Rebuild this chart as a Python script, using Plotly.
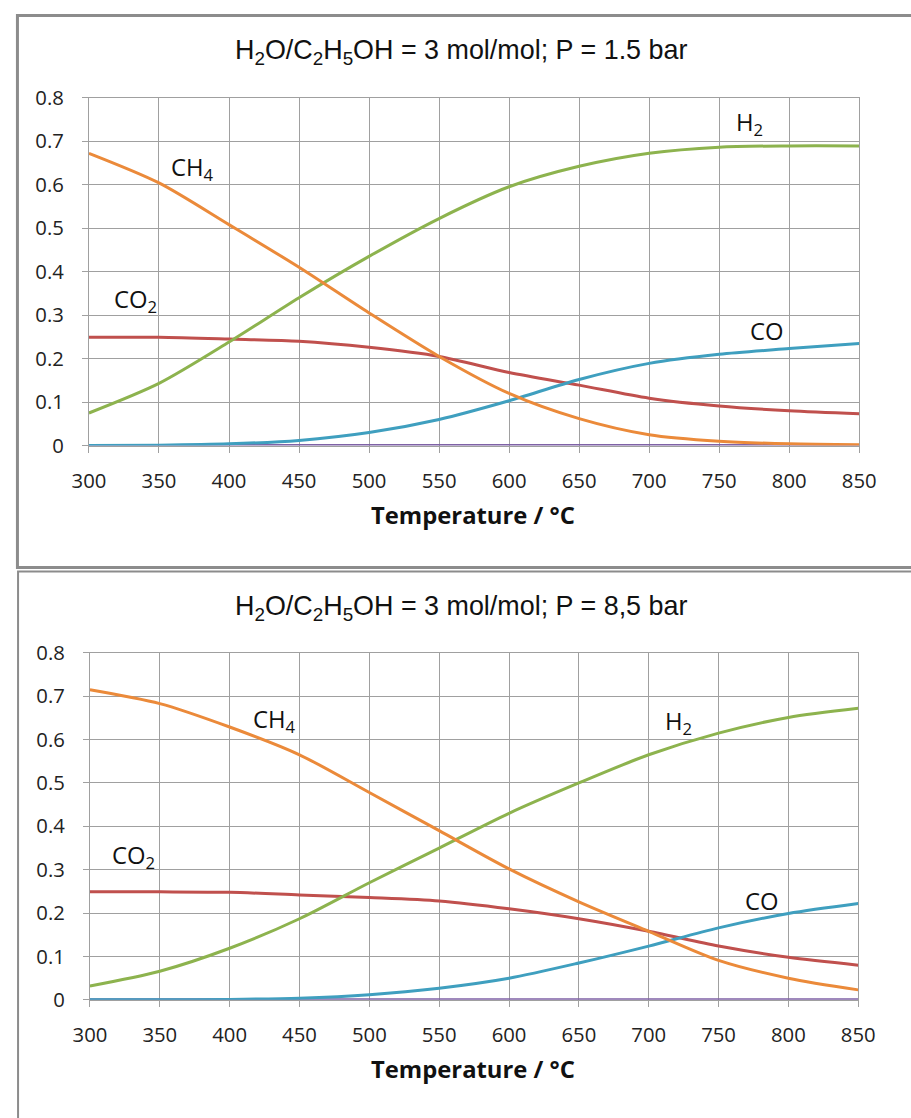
import plotly.graph_objects as go

temps = [300, 350, 400, 450, 500, 550, 600, 650, 700, 750, 800, 850]

# P = 1.5 bar
h2_a  = [0.075, 0.143, 0.238, 0.340, 0.435, 0.522, 0.595, 0.642, 0.672, 0.686, 0.689, 0.689]
ch4_a = [0.672, 0.604, 0.508, 0.410, 0.305, 0.205, 0.120, 0.062, 0.025, 0.010, 0.004, 0.002]
co2_a = [0.249, 0.249, 0.245, 0.240, 0.226, 0.205, 0.168, 0.139, 0.109, 0.091, 0.080, 0.073]
co_a  = [0.000, 0.001, 0.004, 0.012, 0.030, 0.060, 0.103, 0.152, 0.189, 0.210, 0.223, 0.235]
c_a   = [0.0] * 12

# P = 8,5 bar
h2_b  = [0.032, 0.066, 0.119, 0.187, 0.270, 0.350, 0.430, 0.500, 0.565, 0.615, 0.651, 0.672]
ch4_b = [0.715, 0.683, 0.629, 0.565, 0.478, 0.390, 0.302, 0.226, 0.158, 0.091, 0.050, 0.023]
co2_b = [0.249, 0.249, 0.248, 0.242, 0.236, 0.228, 0.210, 0.187, 0.158, 0.124, 0.098, 0.080]
co_b  = [0.000, 0.000, 0.001, 0.004, 0.012, 0.027, 0.050, 0.085, 0.124, 0.166, 0.199, 0.222]
c_b   = [0.0] * 12

x_ticks = [300, 350, 400, 450, 500, 550, 600, 650, 700, 750, 800, 850]
y_ticks = [0, 0.1, 0.2, 0.3, 0.4, 0.5, 0.6, 0.7, 0.8]
y_tick_text = ["0", "0.1", "0.2", "0.3", "0.4", "0.5", "0.6", "0.7", "0.8"]

titles = ["H<sub>2</sub>O/C<sub>2</sub>H<sub>5</sub>OH = 3 mol/mol; P = 1.5 bar",
          "H<sub>2</sub>O/C<sub>2</sub>H<sub>5</sub>OH = 3 mol/mol; P = 8,5 bar"]
x_title = "Temperature / °C"

labels_a = [("CH<sub>4</sub>", 374, 0.638), ("CO<sub>2</sub>", 333, 0.333),
            ("H<sub>2</sub>", 772, 0.741), ("CO", 784, 0.264)]
labels_b = [("CH<sub>4</sub>", 432, 0.645), ("CO<sub>2</sub>", 331, 0.331),
            ("H<sub>2</sub>", 721, 0.640), ("CO", 781, 0.229)]

COL = {"purple": "#7F62A6", "red": "#C0504D", "green": "#8DB34E",
       "aqua": "#3F9FBF", "orange": "#EB8A3A"}

W, H = 911, 1118
# measured mapping of figure pixels to the photographed picture:
# picture_x = SX * fig_x + OX ; picture_y = SY * fig_y + OY
SX, OX, SY, OY = 0.9886, 9.1, 0.9833, 8.7
FS = 1.0 / ((SX + SY) / 2)

def px2x(px):
    return ((px - OX) / SX) / W

def py2y(py):
    return 1 - ((py - OY) / SY) / H

fig = go.Figure()
panels = [
    (dict(c=c_a, co2=co2_a, h2=h2_a, co=co_a, ch4=ch4_a), "x", "y"),
    (dict(c=c_b, co2=co2_b, h2=h2_b, co=co_b, ch4=ch4_b), "x2", "y2"),
]
for d, xa, ya in panels:
    for key, col in [("c", "purple"), ("co2", "red"), ("h2", "green"),
                     ("co", "aqua"), ("ch4", "orange")]:
        fig.add_trace(go.Scatter(x=temps, y=d[key], mode="lines",
                                 line=dict(color=COL[col], width=3, shape="spline", smoothing=0.8),
                                 xaxis=xa, yaxis=ya, showlegend=False, hoverinfo="skip"))

grid = "#A0A0A0"
tickfont = dict(family="Open Sans", size=round(20 * FS, 1), color="#222")
axis_common = dict(showgrid=True, gridcolor=grid, gridwidth=1, showline=True, mirror=True,
                   linecolor=grid, linewidth=1, ticks="outside", ticklen=6, tickcolor=grid,
                   zeroline=False, tickfont=tickfont)

fig.update_layout(
    width=W, height=H, margin=dict(l=0, r=0, t=0, b=0),
    paper_bgcolor="white", plot_bgcolor="white",
    xaxis=dict(domain=[px2x(83), px2x(874)], range=[300, 850], tickvals=x_ticks, anchor="y",
               ticklabelstandoff=11, **axis_common),
    yaxis=dict(domain=[py2y(443), py2y(92)], range=[0, 0.8], tickvals=y_ticks, ticktext=y_tick_text,
               anchor="x", ticklabelstandoff=14, **axis_common),
    xaxis2=dict(domain=[px2x(84), px2x(873)], range=[300, 850], tickvals=x_ticks, anchor="y2",
                ticklabelstandoff=11, **axis_common),
    yaxis2=dict(domain=[py2y(1002), py2y(652)], range=[0, 0.8], tickvals=y_ticks, ticktext=y_tick_text,
                anchor="x2", ticklabelstandoff=14, **axis_common),
)

ann = []
for t, py in zip(titles, [46, 607]):
    ann.append(dict(text=t, x=px2x(465), y=py2y(py), xref="paper", yref="paper",
                    showarrow=False, xanchor="center", yanchor="middle",
                    font=dict(family="Liberation Sans", size=round(26.5 * FS, 1), color="#111")))
for py in [513, 1072]:
    ann.append(dict(text="<b>" + x_title + "</b>", x=px2x(477.5), y=py2y(py), xref="paper", yref="paper",
                    showarrow=False, xanchor="center", yanchor="middle",
                    font=dict(family="Open Sans", size=round(23.5 * FS, 1), color="#111")))
for labs, xr, yr in [(labels_a, "x", "y"), (labels_b, "x2", "y2")]:
    for txt, xv, yv in labs:
        ann.append(dict(text=txt, x=xv, y=yv, xref=xr, yref=yr, showarrow=False,
                        xanchor="center", yanchor="middle",
                        font=dict(family="Open Sans", size=round(23.5 * FS, 1), color="#111")))
fig.update_layout(annotations=ann)

border = "#8C8C8C"
fig.update_layout(shapes=[
    dict(type="rect", xref="paper", yref="paper", x0=0.0005, x1=1.05, y0=py2y(566), y1=0.9995,
         line=dict(color=border, width=3), fillcolor="rgba(0,0,0,0)", layer="below"),
    dict(type="rect", xref="paper", yref="paper", x0=0.0012, x1=1.05, y0=-0.05, y1=py2y(570),
         line=dict(color=border, width=2), fillcolor="rgba(0,0,0,0)", layer="below"),
])

fig.write_html("out.html")
